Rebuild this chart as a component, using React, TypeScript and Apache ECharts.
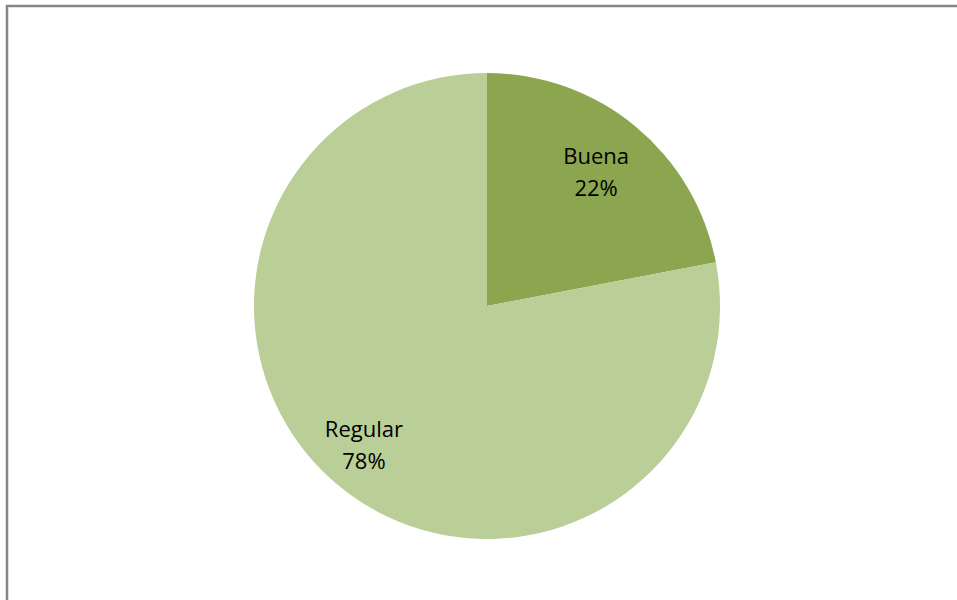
import React, { useEffect, useRef } from "react";
import * as echarts from "echarts";

const categories = ["Buena", "Regular"];
const values = [22, 78];
const colors = ["#8BA64F", "#BACE97"];
const labelOffsets = [[-5, 3], [-9, 0]];

export default function App() {
  const ref = useRef<HTMLDivElement>(null);
  useEffect(() => {
    if (!ref.current) return;
    const chart = echarts.init(ref.current, null, { renderer: "svg" });
    const data = categories.map((name, i) => ({
      name,
      value: values[i],
      itemStyle: { color: colors[i] },
    }));
    chart.setOption({
      animation: false,
      backgroundColor: "#ffffff",
      graphic: [
        {
          type: "rect",
          shape: { x: 7, y: 6, width: 1000, height: 700 },
          style: { fill: "none", stroke: "#868686", lineWidth: 2.5 },
          silent: true,
        },
      ],
      series: [
        {
          type: "pie",
          center: [487, 306],
          radius: [0, 233],
          startAngle: 90,
          clockwise: true,
          silent: true,
          label: { show: false },
          labelLine: { show: false },
          data,
        },
        {
          type: "pie",
          center: [487, 306],
          radius: [0, 352],
          startAngle: 90,
          clockwise: true,
          silent: true,
          z: 3,
          itemStyle: { color: "rgba(0,0,0,0)" },
          label: {
            show: true,
            position: "inside",
            formatter: "{b}\n{d}%",
            fontFamily: "Open Sans",
            fontSize: 22,
            lineHeight: 32,
            color: "#000000",
          },
          labelLine: { show: false },
          data: categories.map((name, i) => ({
            name,
            value: values[i],
            label: { offset: labelOffsets[i] },
          })),
        },
      ],
    });
    return () => chart.dispose();
  }, []);
  return (
    <div
      ref={ref}
      style={{ position: "fixed", left: 0, top: 0, width: 957, height: 600 }}
    />
  );
}
